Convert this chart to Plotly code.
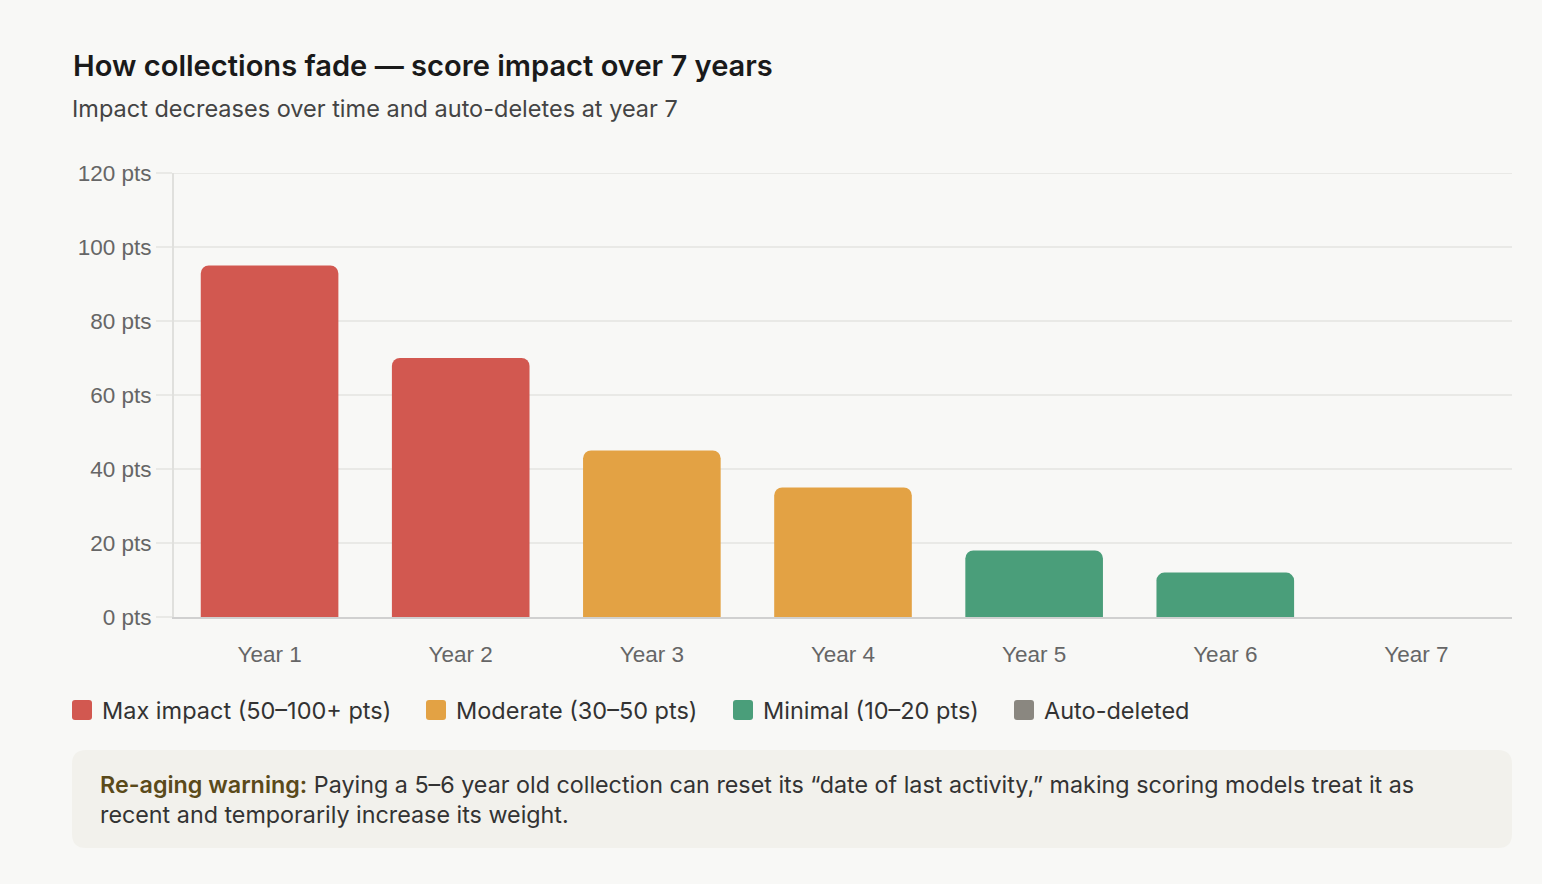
import plotly.graph_objects as go

# ---------------- data ----------------
years = ["Year 1", "Year 2", "Year 3", "Year 4", "Year 5", "Year 6", "Year 7"]
impact = [95, 70, 45, 35, 18, 12, 0]
tier = ["max", "max", "moderate", "moderate", "minimal", "minimal", "deleted"]

tier_keys = ["max", "moderate", "minimal", "deleted"]
tier_labels = ["Max impact (50–100+ pts)", "Moderate (30–50 pts)", "Minimal (10–20 pts)", "Auto-deleted"]
tier_colors = ["#D25850", "#E3A244", "#4A9E7A", "#8A8780"]

y_ticks = [0, 20, 40, 60, 80, 100, 120]
y_tick_text = [f"{v} pts" for v in y_ticks]
y_max = 120

title = "How collections fade — score impact over 7 years"
subtitle = "Impact decreases over time and auto-deletes at year 7"
note_bold = "Re-aging warning:"
note_text = ("Paying a 5–6 year old collection can reset its \u201cdate of last activity,\u201d making scoring models treat it as"
             "<br>recent and temporarily increase its weight.")

# ---------------- layout geometry ----------------
W, H = 1542, 884
L, R, T, B = 174, 30, 173, 267
PW = W - L - R
PH = H - T - B


def px_x(x):
    return (x - L) / PW


def px_y(y):
    return (H - B - y) / PH


def rounded_rect(x0, y0, x1, y1, r):
    X = px_x
    Y = px_y
    return (f"M {X(x0 + r)},{Y(y0)} L {X(x1 - r)},{Y(y0)} Q {X(x1)},{Y(y0)} {X(x1)},{Y(y0 + r)} "
            f"L {X(x1)},{Y(y1 - r)} Q {X(x1)},{Y(y1)} {X(x1 - r)},{Y(y1)} "
            f"L {X(x0 + r)},{Y(y1)} Q {X(x0)},{Y(y1)} {X(x0)},{Y(y1 - r)} "
            f"L {X(x0)},{Y(y0 + r)} Q {X(x0)},{Y(y0)} {X(x0 + r)},{Y(y0)} Z")


fig = go.Figure()
for key, label, color in zip(tier_keys, tier_labels, tier_colors):
    xs = [y for y, t in zip(years, tier) if t == key]
    vs = [v for v, t in zip(impact, tier) if t == key]
    fig.add_trace(go.Bar(x=xs, y=vs, name=label, marker=dict(color=color, line=dict(width=0)),
                         showlegend=False, hoverinfo="x+y"))

FONT = "Inter, 'Noto Sans', sans-serif"
TICKFONT = "'Liberation Sans', Arial, sans-serif"

fig.update_layout(
    width=W, height=H,
    margin=dict(l=L, r=R, t=T, b=B, autoexpand=False),
    paper_bgcolor="#F8F8F6", plot_bgcolor="#F8F8F6",
    barmode="overlay", bargap=0.28, barcornerradius=8,
    showlegend=False,
    font=dict(family=FONT, color="#333"),
)
fig.update_xaxes(
    categoryorder="array", categoryarray=years,
    showgrid=False, showline=True, linecolor="#D0D0D0", linewidth=2,
    ticks="", tickfont=dict(family=TICKFONT, size=22.5, color="#666"),
    ticklabelstandoff=16, fixedrange=True,
)
fig.update_yaxes(
    range=[0, y_max], tickvals=y_ticks, ticktext=y_tick_text,
    showgrid=True, gridcolor="#E9E9E6", gridwidth=2,
    showline=True, linecolor="#E0E0DD", linewidth=2,
    ticks="outside", ticklen=16, tickcolor="#E9E9E6", tickwidth=2,
    tickfont=dict(family=TICKFONT, size=22.5, color="#666"),
    zeroline=False, fixedrange=True,
)

annotations = [
    dict(text=title, x=px_x(71), y=px_y(66), xref="paper", yref="paper",
         xanchor="left", yanchor="middle", showarrow=False,
         font=dict(family=FONT, size=29.1, color="#1a1a1a", weight=600)),
    dict(text=subtitle, x=px_x(70), y=px_y(108), xref="paper", yref="paper",
         xanchor="left", yanchor="middle", showarrow=False,
         font=dict(family=FONT, size=23.5, color="#444")),
    dict(text=f"<span style='color:#5A4A1A;font-weight:600'>{note_bold}</span> {note_text}",
         x=px_x(98), y=px_y(799), xref="paper", yref="paper", align="left",
         xanchor="left", yanchor="middle", showarrow=False,
         font=dict(family=FONT, size=23.3, color="#333")),
]

shapes = [
    dict(type="path", path=rounded_rect(72, 750, 1512, 848, 14), xref="paper", yref="paper",
         fillcolor="#F2F1EC", line=dict(width=0), layer="below"),
    # top gridline at the range edge
    dict(type="line", xref="paper", yref="y", x0=0, x1=1, y0=y_max, y1=y_max,
         line=dict(color="#E9E9E6", width=2), layer="below"),
]

legend_sq_x = [72, 426, 733, 1014]
for lx, label, color in zip(legend_sq_x, tier_labels, tier_colors):
    shapes.append(dict(type="path", path=rounded_rect(lx, 700, lx + 20, 720, 3), xref="paper", yref="paper",
                       fillcolor=color, line=dict(width=0)))
    annotations.append(dict(text=label, x=px_x(lx + 28), y=px_y(710), xref="paper", yref="paper",
                            xanchor="left", yanchor="middle", showarrow=False,
                            font=dict(family=FONT, size=23.5, color="#333")))

fig.update_layout(annotations=annotations, shapes=shapes)
fig.write_html("out.html", config={"displayModeBar": False})
